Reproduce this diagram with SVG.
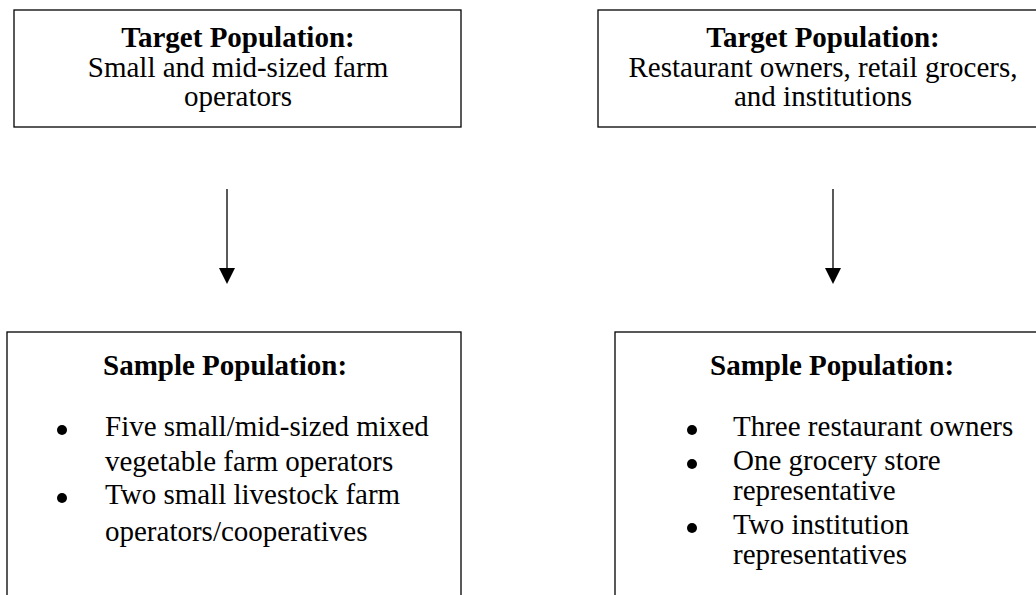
<svg xmlns="http://www.w3.org/2000/svg" width="1036" height="595" viewBox="0 0 1036 595">
<defs>
<style>
.box{fill:#fff;stroke:#000;stroke-width:1.3}
.t{font-family:"Liberation Serif","Times New Roman",serif;font-size:29px;fill:#000}
.b{font-weight:bold}
.c{text-anchor:middle}
.conn{stroke:#000;stroke-width:1.3;fill:none}
</style>
</defs>
<rect width="1036" height="595" fill="#fff"/>
<g id="target-farm">
<rect class="box" x="14" y="10" width="447" height="117"/>
<text class="t b c" x="238" y="47">Target Population:</text>
<text class="t c" x="238" y="77">Small and mid-sized farm</text>
<text class="t c" x="238" y="106">operators</text>
</g>
<g id="target-buyers">
<rect class="box" x="598" y="10" width="460" height="117"/>
<text class="t b c" x="823" y="47">Target Population:</text>
<text class="t c" x="823" y="77">Restaurant owners, retail grocers,</text>
<text class="t c" x="823" y="106">and institutions</text>
</g>
<g id="sample-farm">
<rect class="box" x="7" y="332" width="454" height="300"/>
<text class="t b" x="103" y="375">Sample Population:</text>
<circle cx="62" cy="430" r="5" fill="#000"/>
<text class="t" x="105" y="436">Five small/mid-sized mixed</text>
<text class="t" x="105" y="471">vegetable farm operators</text>
<circle cx="62" cy="498" r="5" fill="#000"/>
<text class="t" x="105" y="504">Two small livestock farm</text>
<text class="t" x="105" y="541">operators/cooperatives</text>
</g>
<g id="sample-buyers">
<rect class="box" x="615" y="332" width="460" height="300"/>
<text class="t b" x="710" y="375">Sample Population:</text>
<circle cx="692" cy="430" r="5" fill="#000"/>
<text class="t" x="733" y="436">Three restaurant owners</text>
<circle cx="692" cy="464" r="5" fill="#000"/>
<text class="t" x="733" y="470">One grocery store</text>
<text class="t" x="733" y="500">representative</text>
<circle cx="692" cy="528" r="5" fill="#000"/>
<text class="t" x="733" y="534">Two institution</text>
<text class="t" x="733" y="564">representatives</text>
</g>
<g id="connectors">
<line class="conn" x1="227" y1="189" x2="227" y2="270"/>
<path d="M219,268 L235,268 L227,284 Z" fill="#000"/>
<line class="conn" x1="833" y1="189" x2="833" y2="270"/>
<path d="M825,268 L841,268 L833,284 Z" fill="#000"/>
</g>
</svg>
